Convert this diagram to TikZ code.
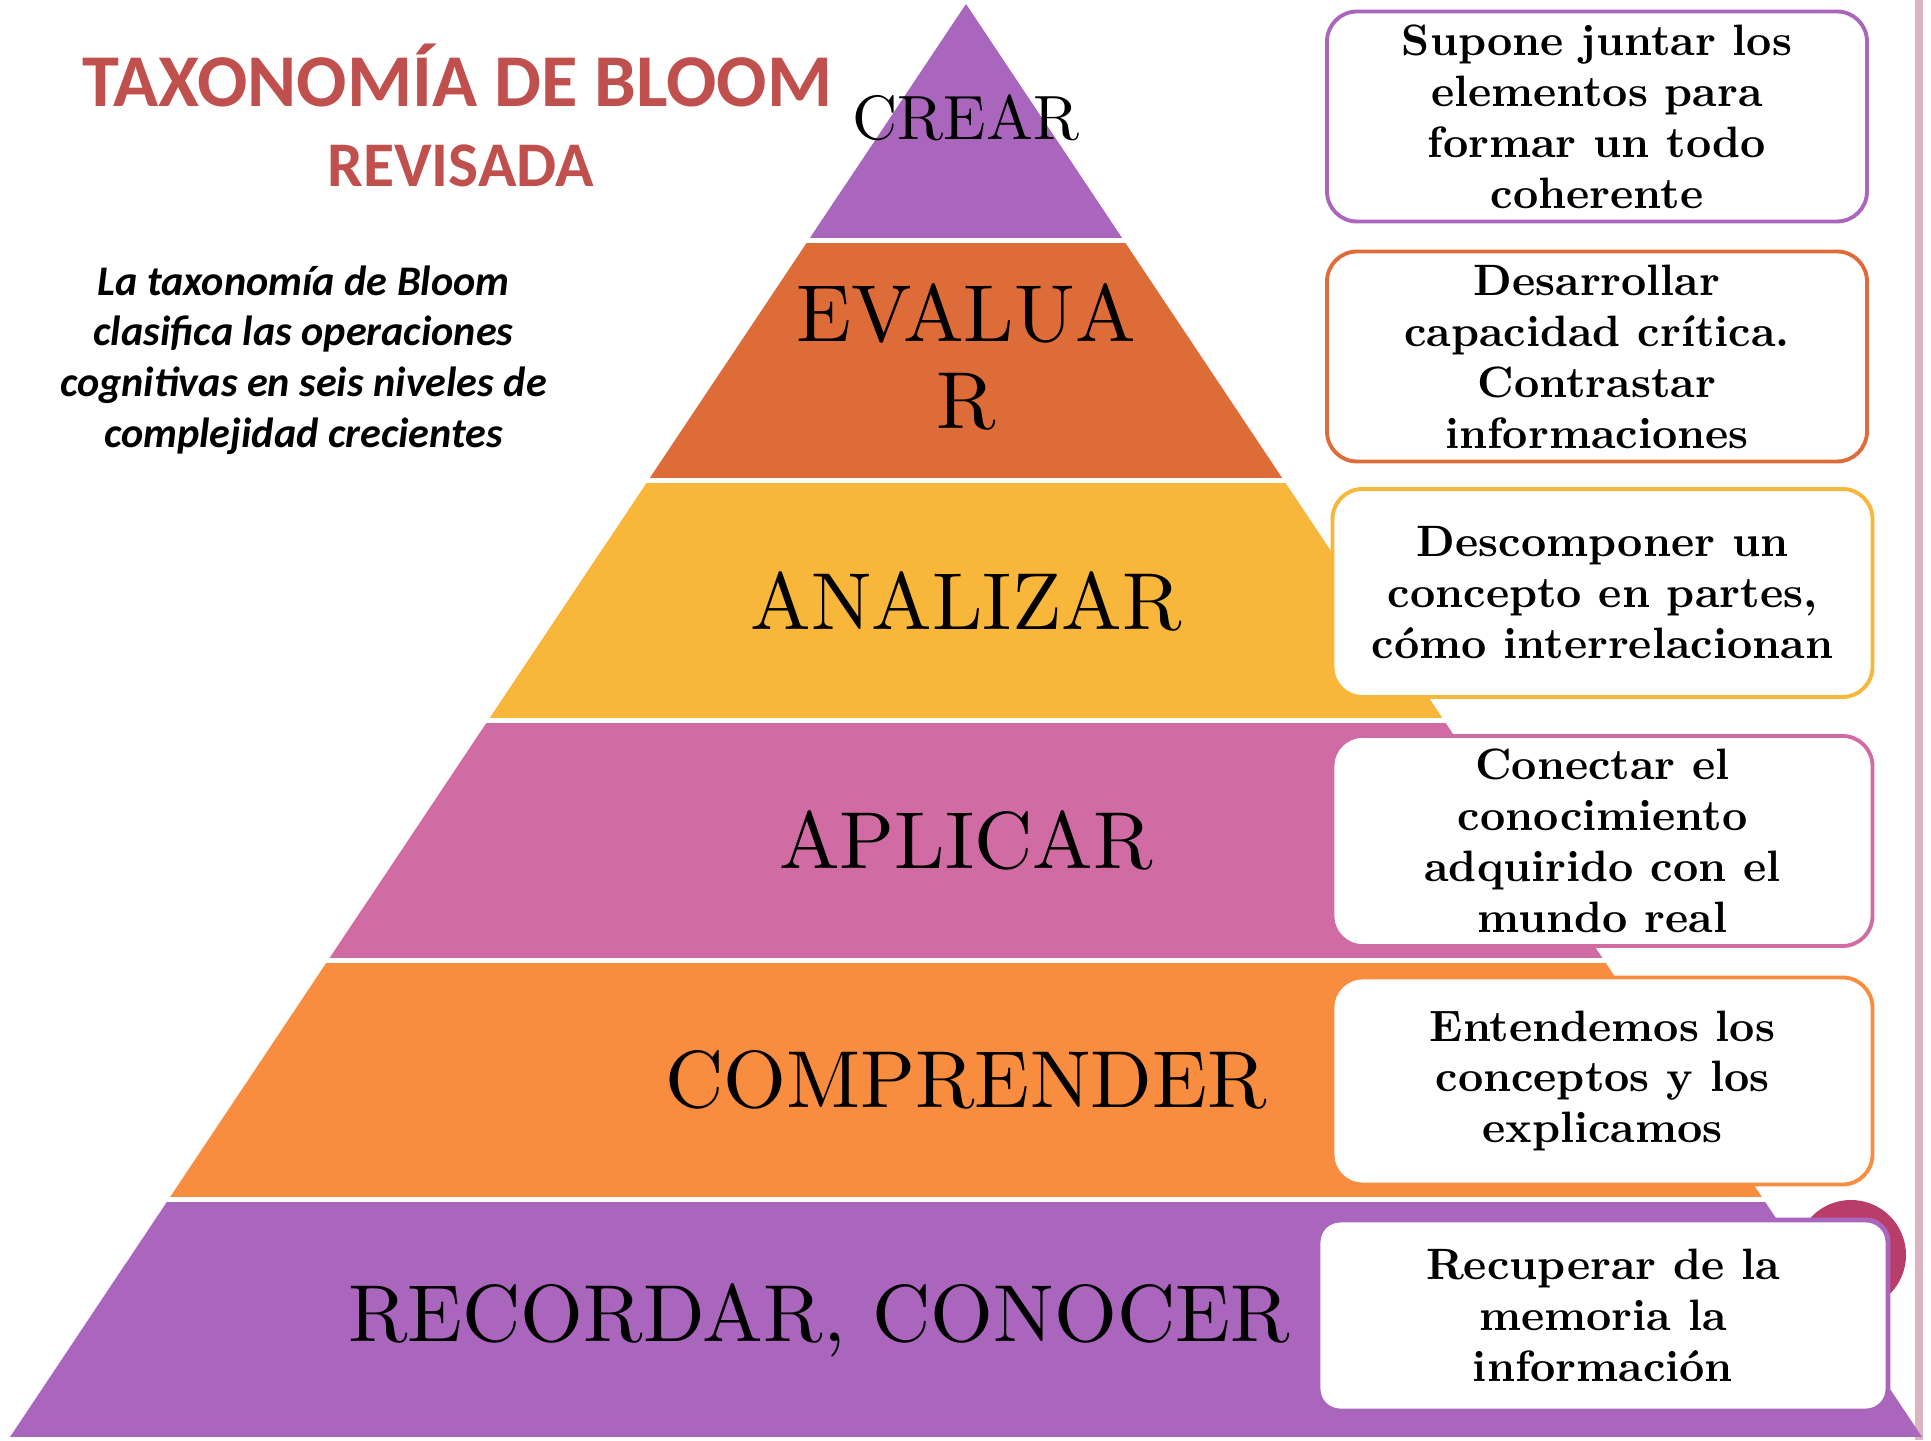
\documentclass[tikz,border=0pt]{standalone}
\usepackage{fontspec}
\setmainfont{Latin Modern Roman}
\newfontfamily\carlito{Carlito}
\newfontfamily\stagefont{lmroman10-regular.otf}
\newfontfamily\boxfont{lmroman10-bold.otf}
\definecolor{bloompurple}{RGB}{170,102,188}
\definecolor{bloomrust}{RGB}{222,108,56}
\definecolor{bloomyellow}{RGB}{248,182,58}
\definecolor{bloompink}{RGB}{208,108,163}
\definecolor{bloomorange}{RGB}{248,140,63}
\definecolor{bloomred}{RGB}{192,80,77}
\definecolor{bloomberry}{RGB}{184,61,104}
\definecolor{bloomrule}{RGB}{221,181,191}
\tikzset{
  stage/.style={font=\stagefont\fontsize{23}{24.5}\selectfont, align=center, inner sep=0pt},
  descbox/.style={draw=#1, line width=1.1pt, fill=white, rounded corners=0.3cm,
    minimum width=5.4cm, minimum height=2.1cm, align=center, inner sep=2pt,
    font=\boxfont\fontsize{12.5}{14.5}\selectfont},
}

\begin{document}
\begin{tikzpicture}
\useasboundingbox (0,0) rectangle (19.31,14.40);
\fill[bloomrule] (19.15,0) rectangle (19.23,14.40);
\fill[bloomberry] (18.51,1.85) circle (0.55);

\coordinate (apex) at (9.66,14.36);
\coordinate (baseL) at (0.10,0.03);
\coordinate (baseR) at (19.22,0.03);
\begin{scope}
\clip (apex) -- (baseL) -- (baseR) -- cycle;
\foreach \col [count=\i from 0] in {bloompurple,bloomorange,bloompink,bloomyellow,bloomrust,bloompurple}
  \fill[\col] (0,0.03+2.397*\i) rectangle (19.31,2.377+2.397*\i);
\end{scope}

\node[stage] (recordar) at (8.19,1.20) {RECORDAR, CONOCER};
\node[stage] (comprender) at (9.66,3.60) {COMPRENDER};
\node[stage] (aplicar) at (9.66,6.00) {APLICAR};
\node[stage] (analizar) at (9.66,8.39) {ANALIZAR};
\node[stage] (evaluar) at (9.66,10.83) {EVALUA\\R};
\node[stage, font=\stagefont\fontsize{17.8}{20}\selectfont] (crear) at (9.66,13.22) {CREAR};

\node[descbox=bloompurple] (crearbox) at (15.97,13.235) {Supone juntar los\\elementos para\\formar un todo\\coherente};
\node[descbox=bloomrust] (evaluarbox) at (15.97,10.835) {Desarrollar\\capacidad crítica.\\Contrastar\\informaciones};
\node[descbox=bloomyellow, minimum height=2.08cm] (analizarbox) at (16.025,8.47) {Descomponer un\\concepto en partes,\\cómo interrelacionan};
\node[descbox=bloompink] (aplicarbox) at (16.025,5.99) {Conectar el\\conocimiento\\adquirido con el\\mundo real};
\node[descbox=bloomorange, minimum height=2.07cm] (comprenderbox) at (16.025,3.59) {Entendemos los\\conceptos y los\\explicamos};
\node[descbox=bloompurple, minimum width=5.7cm, minimum height=1.91cm, rounded corners=0.22cm, line width=1.4pt] (recordarbox) at (16.03,1.245) {Recuperar de la\\memoria la\\información};

\node[font=\carlito\bfseries\fontsize{21.2}{25}\selectfont, text=bloomred, anchor=base] (title) at (4.575,13.33) {TAXONOMÍA DE BLOOM};
\node[font=\carlito\bfseries\fontsize{18.1}{21}\selectfont, text=bloomred, anchor=base] (subtitle) at (4.605,12.53) {REVISADA};
\node[font=\carlito\bfseries\itshape\fontsize{12}{14.4}\selectfont, align=center] (intro) at (3.035,10.80) {La taxonomía de Bloom\\clasifica las operaciones\\cognitivas en seis niveles de\\complejidad crecientes};
\end{tikzpicture}
\end{document}
